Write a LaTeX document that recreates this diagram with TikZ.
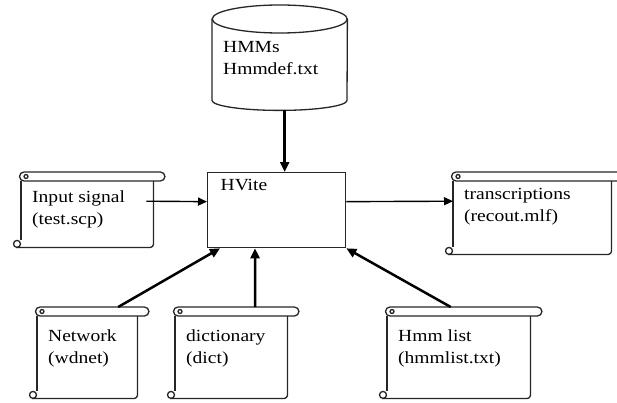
\documentclass[tikz,border=0pt]{standalone}
\usepackage{fontspec}
\setmainfont{Liberation Serif}[FakeStretch=1.15]
\usetikzlibrary{calc,arrows.meta}

\tikzset{
  outline/.style={draw=black!85, line width=1.3pt},
  feed/.style={line width=2.5pt, -{Triangle[length=10pt,width=9pt]}},
  flow/.style={line width=1.4pt, -{Triangle[length=9pt,width=8pt]}},
  body/.style={anchor=north west, inner sep=0pt, font=\fontsize{17}{22}\selectfont},
}

% text block: height, width, space above, lines
\newcommand\boxtext[4]{\parbox[c][#1][t]{#2}{\vspace*{#3}\leftskip=11pt\relax#4}}

% rolled paper round a node
\newcommand\scrolldraw[1]{%
  \draw[outline] ([xshift=3pt]#1.north west) -- ([xshift=7pt]#1.north east)
    arc[start angle=90,end angle=-90,radius=4.5pt]
    -- ([xshift=3pt,yshift=-9pt]#1.north west)
    arc[start angle=270,end angle=90,radius=4.5pt];
  \draw[outline] ([xshift=5pt,yshift=-4.5pt]#1.north west) circle (2pt);
  \draw[outline] ([yshift=-9pt]#1.north west) -- ([yshift=7pt]#1.south west);
  \draw[outline] ([xshift=-5pt]#1.south west) -- ([xshift=-3pt]#1.south east)
    arc[start angle=-90,end angle=0,radius=3pt] -- ([yshift=-9pt]#1.north east);
  \draw[outline] ([xshift=-4pt,yshift=3.5pt]#1.south west) circle (3.5pt);
}

\begin{document}
\begin{tikzpicture}[x=1pt,y=1pt]
\useasboundingbox (0,0) rectangle (617,402);

%HMM set
\node[body] (hmms) at (212,397) {\boxtext{105pt}{135pt}{36pt}{HMMs\\Hmmdef.txt}};
\draw[outline] ([yshift=-14pt]hmms.north) ellipse [x radius=67.5pt, y radius=14pt];
\draw[outline] ([yshift=-14pt]hmms.north west) -- ([yshift=10pt]hmms.south west)
  arc[start angle=180,end angle=360,x radius=67.5pt,y radius=10pt]
  -- ([yshift=-14pt]hmms.north east);

%Recogniser
\node[body,outline] (hvite) at (207,230) {\boxtext{75pt}{138pt}{7pt}{\hspace{2pt}HVite}};

%Files
\node[body] (input) at (21,230) {\boxtext{75pt}{132pt}{19pt}{Input signal\\(test.scp)}};
\node[body] (trans) at (453,230) {\boxtext{82pt}{158pt}{16pt}{transcriptions\\(recout.mlf)}};
\node[body] (net) at (37,95) {\boxtext{91pt}{100pt}{23pt}{Network\\(wdnet)}};
\node[body] (dict) at (175,95) {\boxtext{91pt}{112pt}{23pt}{dictionary\\(dict)}};
\node[body] (hlist) at (387,95) {\boxtext{91pt}{143pt}{23pt}{Hmm list\\(hmmlist.txt)}};

\foreach \s in {input,trans,net,dict,hlist} {\scrolldraw{\s}}

%Arrows
\draw[feed] ($(hmms.south)+(5,0)$) -- ($(hmms.south |- hvite.north)+(5,0)$);
\draw[flow] ($(input.east)+(-7,8.5)$) -- ($(hvite.west)+(0,8.5)$);
\draw[flow] ($(hvite.east)+(0,8.5)$) -- ($(trans.west)+(0,12)$);
\draw[feed] ($(net.north)+(31,0)$) -- ($(hvite.south west)+(13,0)$);
\draw[feed] ($(dict.north)+(24,0)$) -- ($(hvite.south west)+(48,0)$);
\draw[feed] ($(hlist.north)+(-8,0)$) -- (hvite.south east);

\end{tikzpicture}
\end{document}
